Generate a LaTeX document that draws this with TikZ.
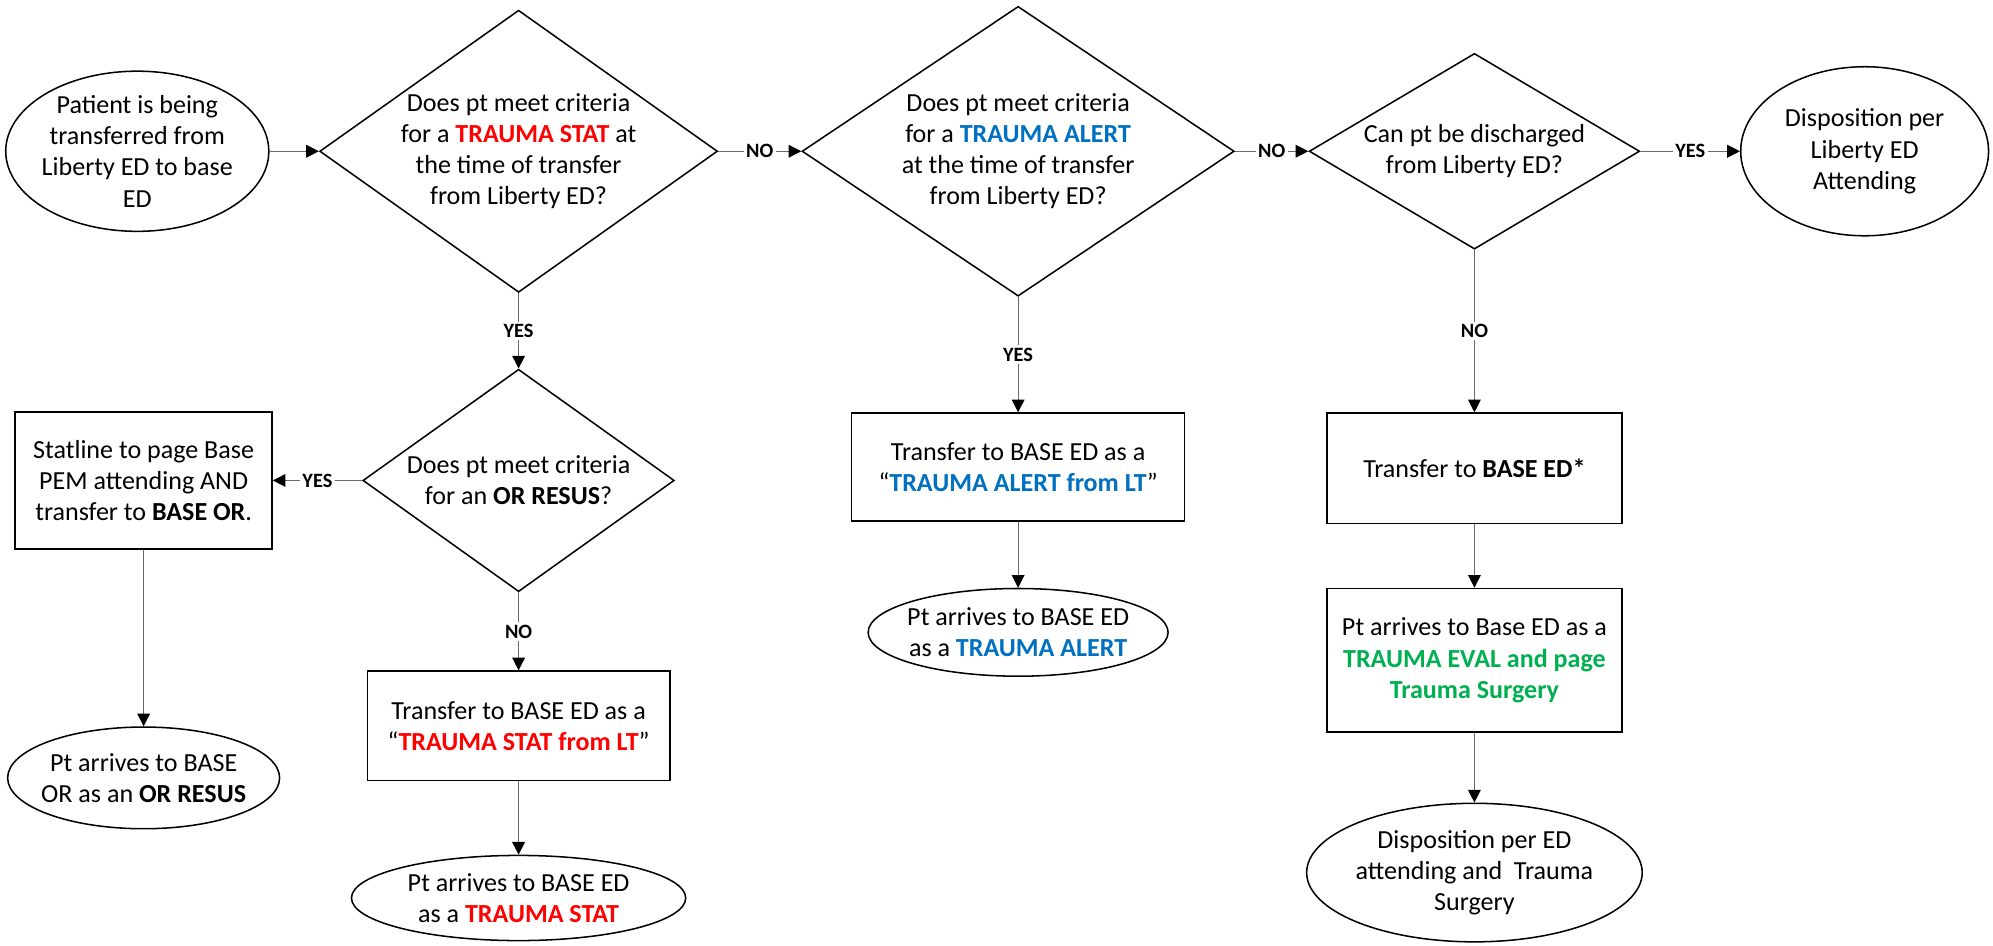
\documentclass[tikz,border=0pt]{standalone}
\usepackage{fontspec}
\setmainfont{Carlito}
\usetikzlibrary{shapes.geometric,arrows.meta}
\definecolor{tred}{HTML}{FF0000}
\definecolor{tblue}{HTML}{0070C0}
\definecolor{tgreen}{HTML}{00B050}
\definecolor{conncol}{HTML}{6A6A6A}
\begin{document}
\begin{tikzpicture}[x=1pt,y=-1pt,
  shp/.style={draw=black,line width=1.2pt,inner sep=0pt},
  dia/.style={shp,diamond},
  ell/.style={shp,ellipse},
  box/.style={shp,rectangle},
  txt/.style={align=center,font=\fontsize{20.5}{24.5}\selectfont,inner sep=0pt},
  conn/.style={draw=conncol,line width=0.9pt,-{Triangle[length=10pt,width=10pt,color=black]}},
  lbl/.style={font=\fontsize{16}{18}\selectfont\bfseries,fill=white,inner sep=2pt,text=black},
]
\useasboundingbox (0,0) rectangle (1568,744);

% shapes
\node[ell,minimum width=207pt,minimum height=126pt] (start) at (108,119) {};
\node[dia,minimum width=313pt,minimum height=222pt] (d1) at (408,119) {};
\node[dia,minimum width=340pt,minimum height=228pt] (d2) at (801,119) {};
\node[dia,minimum width=260pt,minimum height=154pt] (d3) at (1160,119) {};
\node[ell,minimum width=195pt,minimum height=133pt] (e1) at (1467,119) {};
\node[dia,minimum width=245pt,minimum height=175pt] (d4) at (408,378) {};
\node[box,minimum width=202pt,minimum height=108pt] (box1) at (113,378) {};
\node[ell,minimum width=214pt,minimum height=80pt] (e2) at (113,612) {};
\node[box,minimum width=238pt,minimum height=86pt] (box2) at (408,571) {};
\node[ell,minimum width=263pt,minimum height=67pt] (e3) at (408,706.5) {};
\node[box,minimum width=262pt,minimum height=85pt] (box3) at (801,367.5) {};
\node[ell,minimum width=236pt,minimum height=69pt] (e4) at (801,497.5) {};
\node[box,minimum width=232pt,minimum height=87pt] (box4) at (1160,368.5) {};
\node[box,minimum width=232pt,minimum height=113pt] (box5) at (1160,519.5) {};
\node[ell,minimum width=264pt,minimum height=109pt] (e5) at (1160,686.5) {};

% texts
\node[txt] (startt) at (start) {Patient is being\\transferred from\\Liberty ED to base\\ED};
\node[txt] (d1t) at (d1) {Does pt meet criteria\\for a \textcolor{tred}{\textbf{TRAUMA STAT}} at\\the time of transfer\\from Liberty ED?};
\node[txt] (d2t) at (d2) {Does pt meet criteria\\for a \textcolor{tblue}{\textbf{TRAUMA ALERT}}\\at the time of transfer\\from Liberty ED?};
\node[txt] (d3t) at (d3) {Can pt be discharged\\from Liberty ED?};
\node[txt] (e1t) at (e1) {Disposition per\\Liberty ED\\Attending};
\node[txt] (d4t) at (d4) {Does pt meet criteria\\for an \textbf{OR RESUS}?};
\node[txt] (box1t) at (box1) {Statline to page Base\\PEM attending AND\\transfer to \textbf{BASE OR}.};
\node[txt] (e2t) at (e2) {Pt arrives to BASE\\OR as an \textbf{OR RESUS}};
\node[txt] (box2t) at (box2) {Transfer to BASE ED as a\\“\textcolor{tred}{\textbf{TRAUMA STAT from LT}}”};
\node[txt] (e3t) at (e3) {Pt arrives to BASE ED\\as a \textcolor{tred}{\textbf{TRAUMA STAT}}};
\node[txt] (box3t) at (box3) {Transfer to BASE ED as a\\“\textcolor{tblue}{\textbf{TRAUMA ALERT from LT}}”};
\node[txt] (e4t) at (e4) {Pt arrives to BASE ED\\as a \textcolor{tblue}{\textbf{TRAUMA ALERT}}};
\node[txt] (box4t) at (box4) {Transfer to \textbf{BASE ED*}};
\node[txt] (box5t) at (box5) {Pt arrives to Base ED as a\\\textcolor{tgreen}{\textbf{TRAUMA EVAL and page}}\\\textcolor{tgreen}{\textbf{Trauma Surgery}}};
\node[txt] (e5t) at (e5) {Disposition per ED\\attending and~ Trauma\\Surgery};

% connectors
\draw[conn] (start) -- (d1);
\draw[conn] (d1) -- node[lbl]{NO} (d2);
\draw[conn] (d2) -- node[lbl]{NO} (d3);
\draw[conn] (d3) -- node[lbl]{YES} (e1);
\draw[conn] (d1) -- node[lbl]{YES} (d4);
\draw[conn] (d4) -- node[lbl]{YES} (box1);
\draw[conn] (box1) -- (e2);
\draw[conn] (d4) -- node[lbl]{NO} (box2);
\draw[conn] (box2) -- (e3);
\draw[conn] (d2) -- node[lbl]{YES} (box3);
\draw[conn] (box3) -- (e4);
\draw[conn] (d3) -- node[lbl]{NO} (box4);
\draw[conn] (box4) -- (box5);
\draw[conn] (box5) -- (e5);
\end{tikzpicture}
\end{document}
